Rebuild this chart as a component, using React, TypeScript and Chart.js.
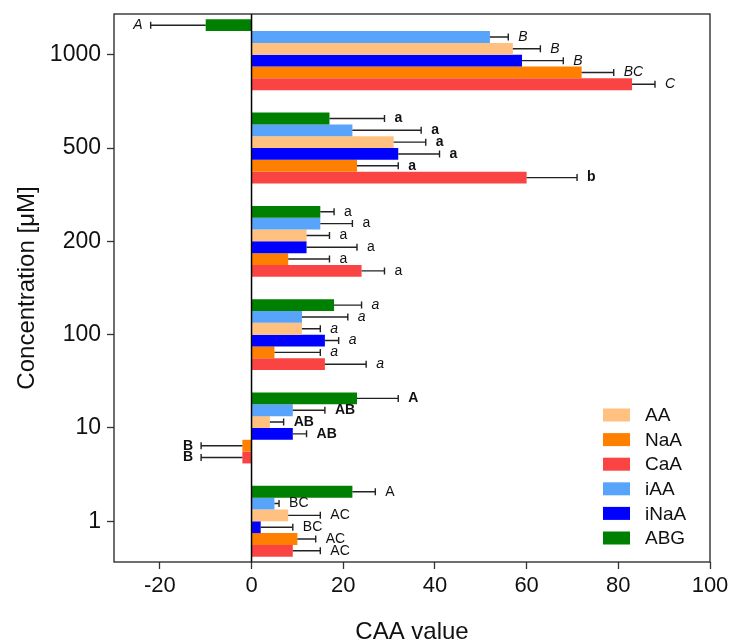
import React, { useEffect, useRef } from "react";
import { Chart, registerables } from "chart.js";

Chart.register(...registerables);

// ---- data ----
const categories = ["1000", "500", "200", "100", "10", "1"];
const xTickValues = [-20, 0, 20, 40, 60, 80, 100];

// bar order inside each group, top to bottom
const seriesNames = ["ABG", "iAA", "AA", "iNaA", "NaA", "CaA"];
const seriesColors = ["#008000", "#58A4FA", "#FFC080", "#0000FF", "#FF8000", "#FA4444"];

const abgValues = [-10, 17, 15, 18, 23, 22];
const iaaValues = [52, 22, 15, 11, 9, 5];
const aaValues = [57, 31, 12, 11, 4, 8];
const inaaValues = [59, 32, 12, 16, 9, 2];
const naaValues = [72, 23, 8, 5, -2, 10];
const caaValues = [83, 60, 24, 16, -2, 9];

const abgErrors = [12, 12, 3, 6, 9, 5];
const iaaErrors = [4, 15, 7, 10, 7, 1];
const aaErrors = [6, 7, 5, 4, 3, 7];
const inaaErrors = [9, 9, 11, 3, 3, 7];
const naaErrors = [7, 9, 9, 10, 9, 4];
const caaErrors = [5, 11, 5, 9, 9, 6];

const abgLetters = ["A", "a", "a", "a", "A", "A"];
const iaaLetters = ["B", "a", "a", "a", "AB", "BC"];
const aaLetters = ["B", "a", "a", "a", "AB", "AC"];
const inaaLetters = ["B", "a", "a", "a", "AB", "BC"];
const naaLetters = ["BC", "a", "a", "a", "B", "AC"];
const caaLetters = ["C", "b", "a", "a", "B", "AC"];

// letter style for each concentration group
const letterStyles = ["italic", "bold", "normal", "italic", "bold", "normal"];

const legendOrder = ["AA", "NaA", "CaA", "iAA", "iNaA", "ABG"];

const allValues = [abgValues, iaaValues, aaValues, inaaValues, naaValues, caaValues];
const allErrors = [abgErrors, iaaErrors, aaErrors, inaaErrors, naaErrors, caaErrors];
const allLetters = [abgLetters, iaaLetters, aaLetters, inaaLetters, naaLetters, caaLetters];

const FONT = "'Liberation Sans', Arial, Helvetica, sans-serif";

const overlayPlugin = {
  id: "overlay",
  afterDatasetsDraw(chart: any) {
    const ctx = chart.ctx as CanvasRenderingContext2D;
    const xs = chart.scales.x;
    const area = chart.chartArea;
    ctx.save();

    // error bars + letters
    chart.data.datasets.forEach((_ds: any, di: number) => {
      const meta = chart.getDatasetMeta(di);
      meta.data.forEach((bar: any, i: number) => {
        const v = allValues[di][i];
        const e = allErrors[di][i];
        const end = v >= 0 ? v + e : v - e;
        const x0 = bar.x;
        const x1 = xs.getPixelForValue(end);
        const y = bar.y;
        ctx.strokeStyle = "#222";
        ctx.lineWidth = 1.4;
        ctx.beginPath();
        ctx.moveTo(x0, y);
        ctx.lineTo(x1, y);
        ctx.moveTo(x1, y - 3.5);
        ctx.lineTo(x1, y + 3.5);
        ctx.stroke();

        const st = letterStyles[i];
        const fontStr =
          (st === "italic" ? "italic " : "") + (st === "bold" ? "bold " : "") + "14px " + FONT;
        ctx.font = fontStr;
        ctx.fillStyle = "#111";
        ctx.textBaseline = "middle";
        if (v >= 0) {
          ctx.textAlign = "left";
          ctx.fillText(allLetters[di][i], x1 + 10, y);
        } else {
          ctx.textAlign = "right";
          ctx.fillText(allLetters[di][i], x1 - 8, y);
        }
      });
    });

    // zero line
    const zx = xs.getPixelForValue(0);
    ctx.strokeStyle = "#000";
    ctx.lineWidth = 1.5;
    ctx.beginPath();
    ctx.moveTo(zx, area.top);
    ctx.lineTo(zx, area.bottom);
    ctx.stroke();

    // frame
    ctx.strokeStyle = "#222";
    ctx.lineWidth = 1.3;
    ctx.strokeRect(area.left, area.top, area.right - area.left, area.bottom - area.top);

    // legend
    legendOrder.forEach((name, k) => {
      const idx = seriesNames.indexOf(name);
      const cy = 415 + k * 24.6;
      ctx.fillStyle = seriesColors[idx];
      ctx.fillRect(603, cy - 6.5, 27, 13);
      ctx.fillStyle = "#111";
      ctx.font = "19px " + FONT;
      ctx.textAlign = "left";
      ctx.textBaseline = "middle";
      ctx.fillText(name, 645, cy + 1);
    });

    ctx.restore();
  },
};

export default function App() {
  const canvasRef = useRef<HTMLCanvasElement | null>(null);

  useEffect(() => {
    if (!canvasRef.current) return;
    Chart.defaults.font.family = FONT;
    const datasets = seriesNames.map((name, di) => ({
      label: name,
      data: allValues[di].map((v, i) => ({ x: v, y: i })),
      backgroundColor: seriesColors[di],
      borderWidth: 0,
      categoryPercentage: 0.76,
      barPercentage: 1,
    }));

    const chart = new Chart(canvasRef.current, {
      type: "bar",
      data: { datasets } as any,
      options: {
        responsive: false,
        animation: false,
        indexAxis: "y",
        layout: { padding: { top: 14, right: 21, left: 0, bottom: 0 } },
        plugins: {
          legend: { display: false },
          tooltip: { enabled: false },
        },
        scales: {
          x: {
            type: "linear",
            min: -30,
            max: 100,
            afterBuildTicks: (scale: any) => {
              scale.ticks = xTickValues.map((v) => ({ value: v }));
            },
            afterFit: (scale: any) => {
              scale.height = 82;
              scale.paddingLeft = 0;
              scale.paddingRight = 0;
            },
            grid: {
              display: true,
              drawOnChartArea: false,
              drawTicks: true,
              tickLength: 7,
              tickColor: "#333",
              tickWidth: 1.3,
            },
            border: { display: false },
            ticks: {
              color: "#111",
              font: { size: 22 },
              padding: 4,
            },
            title: {
              display: true,
              text: "CAA value",
              color: "#111",
              font: { size: 24, lineHeight: 1 },
              padding: 0,
            },
          },
          y: {
            type: "linear",
            reverse: true,
            offset: false,
            min: -0.4365,
            max: 5.4365,
            afterBuildTicks: (scale: any) => {
              scale.ticks = categories.map((_c, i) => ({ value: i }));
            },
            afterFit: (scale: any) => {
              scale.width = 114;
              scale.paddingTop = 0;
              scale.paddingBottom = 0;
            },
            grid: {
              display: true,
              offset: false,
              drawOnChartArea: false,
              drawTicks: true,
              tickLength: 7,
              tickColor: "#333",
              tickWidth: 1.3,
            },
            border: { display: false },
            ticks: {
              color: "#111",
              font: { size: 23 },
              padding: 6,
              callback: (val: any) => categories[Math.round(Number(val))] ?? "",
            },
            title: {
              display: true,
              text: "Concentration [μM]",
              color: "#111",
              font: { size: 24, lineHeight: 1 },
              padding: { top: 15, bottom: 0 },
            },
          },
        },
      } as any,
      plugins: [overlayPlugin],
    });
    return () => chart.destroy();
  }, []);

  return (
    <div style={{ position: "absolute", left: 0, top: 0, width: 731, height: 644 }}>
      <canvas ref={canvasRef} width={731} height={644} style={{ display: "block" }} />
    </div>
  );
}
